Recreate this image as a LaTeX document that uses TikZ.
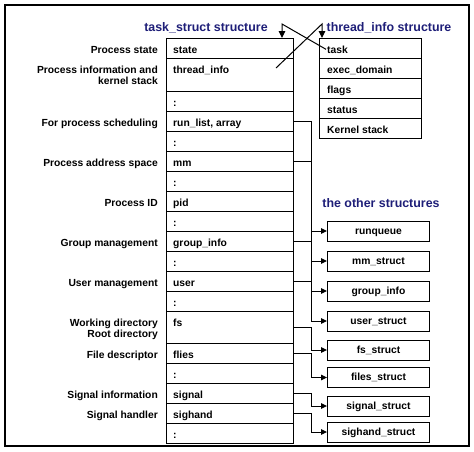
\documentclass[tikz,border=0pt]{standalone}
\usepackage{fontspec}
\setmainfont{Liberation Sans}
\usetikzlibrary{arrows.meta,positioning}
\definecolor{navy}{RGB}{30,30,120}

\begin{document}
\begin{tikzpicture}[x=1pt,y=-1pt,
    txt/.style={font=\fontsize{10.3pt}{11.5pt}\selectfont\bfseries,inner sep=1pt},
    cell/.style={draw,line width=1pt,minimum width=127pt,anchor=north west,inner sep=0pt},
    info/.style={cell,minimum width=102pt,minimum height=20pt},
    other/.style={txt,draw,line width=0.9pt,minimum width=102pt,minimum height=20pt,
        text height=7.5pt,text depth=1pt},
    title/.style={font=\fontsize{12.4pt}{14pt}\selectfont\bfseries,text=navy},
    conn/.style={line width=1pt,-{Triangle[length=6pt,width=5.5pt]}}]
    \useasboundingbox (0,0) rectangle (474,451);
    \draw[line width=1.2pt] (5,5) rectangle (469,446);

    \node[title] (ttask) at (206,28) {task\_struct structure};
    \node[title] (tinfo) at (389,28) {thread\_info structure};
    \node[title] (tother) at (381,203) {the other structures};

    % task_struct fields
    \foreach \top/\h/\fld [count=\i] in {38/20/state, 58/33/thread\_info, 91/20/:,
        111/20/{run\_list, array}, 131/20/:, 151/20/mm, 171/20/:, 191/20/pid, 211/20/:,
        231/20/group\_info, 251/20/:, 271/20/user, 291/20/:, 311/32/fs, 343/20/flies,
        363/20/:, 383/20/signal, 403/20/sighand, 423/20/:} {
        \node[cell,minimum height=\h pt] (t\i) at (166,\top) {};
        \node[txt,anchor=base west] (tf\i) at ([xshift=6pt,yshift=-15pt]t\i.north west) {\fld};
    }
    % the base of a two-line label is its last line
    \foreach \i/\b/\lab in {1/15/Process state, 2/26.5/{Process information and\\kernel stack},
        4/15/For process scheduling, 6/15/Process address space, 8/15/Process ID,
        10/15/Group management, 12/15/User management, 14/26.5/{Working directory\\Root directory},
        15/15/File descriptor, 17/15/Signal information, 18/15/Signal handler}
        \node[txt,align=right,anchor=base east] (tl\i) at ([xshift=-7pt,yshift=-\b pt]t\i.north west) {\lab};

    % thread_info fields
    \foreach \fld [count=\i] in {task, exec\_domain, flags, status, Kernel stack} {
        \node[info] (i\i) at (319,18+20*\i) {};
        \node[txt,anchor=base west] (if\i) at ([xshift=7pt,yshift=-15pt]i\i.north west) {\fld};
    }

    % the other structures
    \foreach \y/\name [count=\i] in {231/runqueue, 261/mm\_struct, 291/group\_info,
        321/user\_struct, 350/fs\_struct, 377.5/files\_struct, 406/signal\_struct,
        432/sighand\_struct}
        \node[other] (o\i) at (378.5,\y) {\name};

    \foreach \f/\o in {4/1, 6/2, 10/3, 12/4, 14/5, 15/6, 17/7, 18/8}
        \draw[conn] (t\f.east) -- ++(17,0) |- (o\o);

    % crossed pointers between the two structures
    \coordinate (ptask) at (282,24);
    \coordinate (pinfo) at (322,24);
    \coordinate (tistart) at (276,68);
    \draw[conn,-{Triangle[length=7pt,width=6.5pt]}] (if1.west) -- (ptask) -- (ptask |- t1.north);
    \draw[conn,-{Triangle[length=7pt,width=6.5pt]}] (tistart) -- (pinfo) -- (pinfo |- i1.north);
\end{tikzpicture}
\end{document}
